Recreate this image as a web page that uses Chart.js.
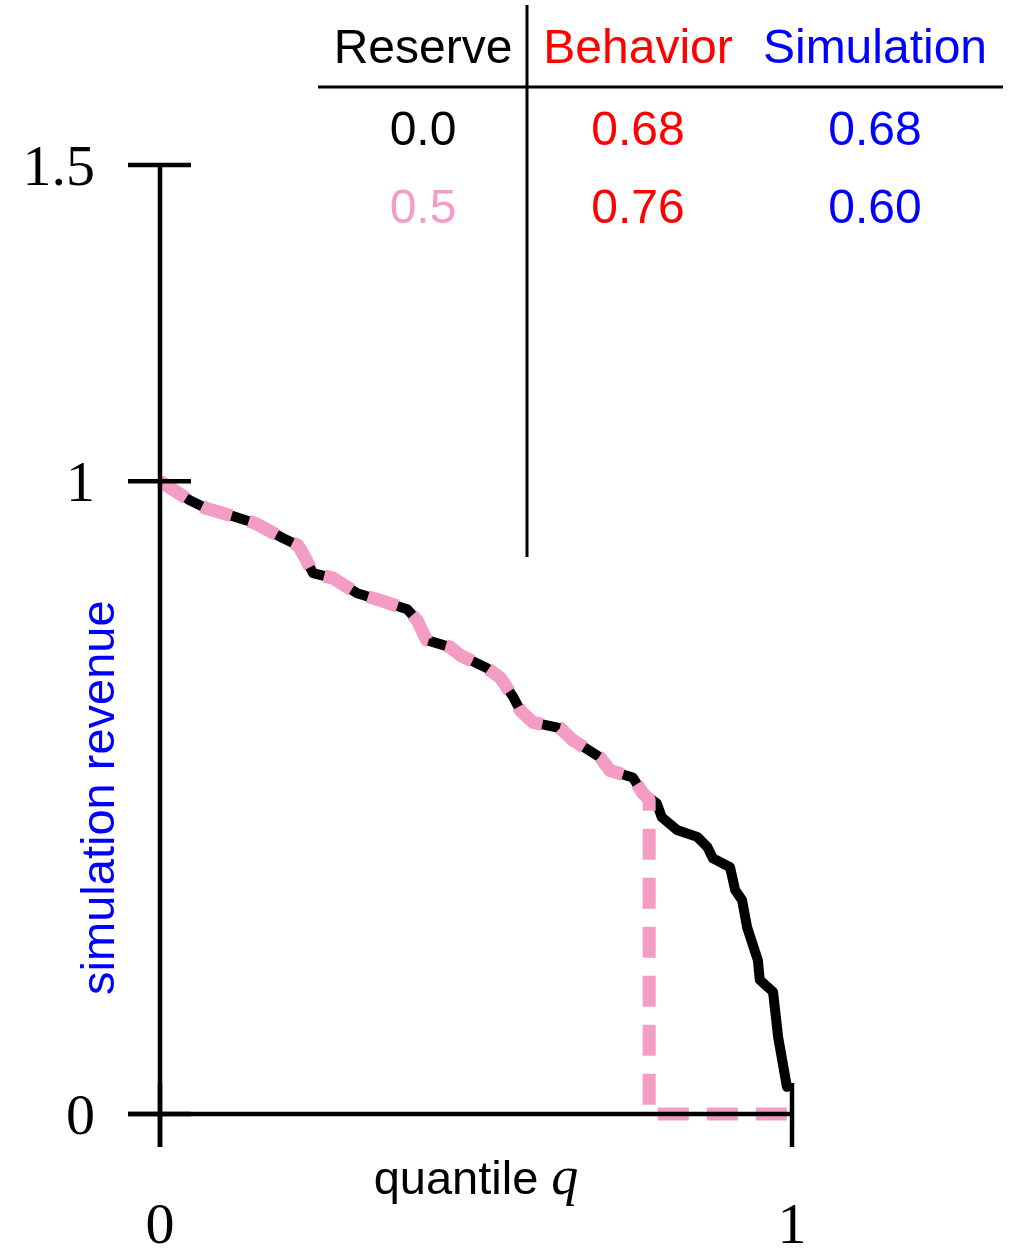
<!DOCTYPE html>
<html>
<head>
<meta charset="utf-8">
<script src="https://cdn.jsdelivr.net/npm/chart.js@4.4.0/dist/chart.umd.min.js"></script>
<style>
  html, body { margin: 0; padding: 0; background: #fff; }
  #wrap { width: 1009px; height: 1248px; }
</style>
</head>
<body>
<div id="wrap"><canvas id="chart" width="1009" height="1248"></canvas></div>
<script>
const quantile = [0, 0.005, 0.047, 0.074, 0.122, 0.150, 0.195, 0.218, 0.226, 0.242,
  0.274, 0.312, 0.348, 0.391, 0.407, 0.422, 0.459, 0.475, 0.517, 0.538,
  0.559, 0.570, 0.590, 0.633, 0.653, 0.696, 0.712, 0.748, 0.764, 0.786,
  0.794, 0.818, 0.850, 0.866, 0.875, 0.902, 0.910, 0.921, 0.929, 0.946,
  0.949, 0.970, 0.978, 0.992, 1.000];
const revenueNoReserve = [1.000, 0.997, 0.970, 0.957, 0.943, 0.934, 0.910, 0.899, 0.886, 0.855,
  0.847, 0.823, 0.812, 0.798, 0.780, 0.749, 0.738, 0.725, 0.705, 0.690,
  0.659, 0.638, 0.619, 0.610, 0.591, 0.564, 0.543, 0.532, 0.507, 0.491,
  0.469, 0.449, 0.438, 0.422, 0.404, 0.390, 0.354, 0.338, 0.295, 0.243,
  0.212, 0.193, 0.122, 0.043, 0.046];

// reserve 0.5 curve: follows the same path, then drops to zero
const quantileReserve = [0, 0.005, 0.047, 0.074, 0.122, 0.150, 0.195, 0.218, 0.226, 0.242,
  0.274, 0.312, 0.348, 0.391, 0.407, 0.422, 0.459, 0.475, 0.517, 0.538,
  0.559, 0.570, 0.590, 0.633, 0.653, 0.696, 0.712, 0.748, 0.764, 0.774,
  0.774, 1.000];
const revenueReserve = [1.000, 0.997, 0.970, 0.957, 0.943, 0.934, 0.910, 0.899, 0.886, 0.855,
  0.847, 0.823, 0.812, 0.798, 0.780, 0.749, 0.738, 0.725, 0.705, 0.690,
  0.659, 0.638, 0.619, 0.610, 0.591, 0.564, 0.543, 0.532, 0.507, 0.497,
  0, 0];

const xTicks = [0, 1];
const yTicks = [0, 1, 1.5];
const yTickLabels = ['0', '1', '1.5'];

// table in the top right
const tableHeaders = ['Reserve', 'Behavior', 'Simulation'];
const reserveVals = ['0.0', '0.5'];
const behaviorVals = ['0.68', '0.76'];
const simulationVals = ['0.68', '0.60'];

const PINK = '#f39dc4';
const SANS = '"Liberation Sans", Arial, sans-serif';
const SERIF = '"Liberation Serif", "Times New Roman", serif';

function toPoints(xs, ys) {
  return xs.map((x, i) => ({ x: x, y: ys[i] }));
}

const axesPlugin = {
  id: 'axesPlugin',
  afterDatasetsDraw(chart) {
    const ctx = chart.ctx;
    const xs = chart.scales.x;
    const ys = chart.scales.y;
    const x0 = xs.getPixelForValue(0);
    const y0 = ys.getPixelForValue(0);
    const tick = 31;

    ctx.save();
    ctx.strokeStyle = '#000';
    ctx.lineWidth = 4.5;
    ctx.lineCap = 'butt';

    // y axis line
    ctx.beginPath();
    ctx.moveTo(x0, ys.getPixelForValue(1.5));
    ctx.lineTo(x0, y0 + tick + 2);
    ctx.stroke();
    // x axis line
    ctx.beginPath();
    ctx.moveTo(x0 - tick - 1, y0);
    ctx.lineTo(xs.getPixelForValue(1), y0);
    ctx.stroke();

    // y ticks
    yTicks.forEach(v => {
      const p = ys.getPixelForValue(v);
      ctx.beginPath();
      ctx.moveTo(x0 - tick - 1, p);
      ctx.lineTo(x0 + tick, p);
      ctx.stroke();
    });
    // x ticks
    xTicks.forEach(v => {
      const p = xs.getPixelForValue(v);
      ctx.beginPath();
      ctx.moveTo(p, y0 - tick);
      ctx.lineTo(p, y0 + tick + 2);
      ctx.stroke();
    });

    // tick labels
    ctx.fillStyle = '#000';
    ctx.font = '58px ' + SERIF;
    ctx.textAlign = 'right';
    ctx.textBaseline = 'alphabetic';
    yTicks.forEach((v, i) => {
      ctx.fillText(yTickLabels[i], 95, ys.getPixelForValue(v) + 20);
    });
    ctx.textAlign = 'center';
    xTicks.forEach(v => {
      ctx.fillText(String(v), xs.getPixelForValue(v), 1243);
    });

    // x axis title: "quantile q"
    const mid = (xs.getPixelForValue(0) + xs.getPixelForValue(1)) / 2;
    ctx.font = '47px ' + SANS;
    const w1 = ctx.measureText('quantile ').width;
    ctx.font = 'italic 54px ' + SERIF;
    const w2 = ctx.measureText('q').width;
    const start = mid - (w1 + w2) / 2;
    ctx.textAlign = 'left';
    ctx.font = '47px ' + SANS;
    ctx.fillText('quantile ', start, 1194);
    ctx.font = 'italic 54px ' + SERIF;
    ctx.fillText('q', start + w1, 1194);

    // y axis title
    ctx.save();
    ctx.translate(114, (ys.getPixelForValue(0) + ys.getPixelForValue(1)) / 2);
    ctx.rotate(-Math.PI / 2);
    ctx.textAlign = 'center';
    ctx.fillStyle = '#0000ff';
    ctx.font = '47px ' + SANS;
    ctx.fillText('simulation revenue', 0, 0);
    ctx.restore();

    // table
    ctx.lineWidth = 3;
    ctx.beginPath();
    ctx.moveTo(527, 5);
    ctx.lineTo(527, 557);
    ctx.stroke();
    ctx.beginPath();
    ctx.moveTo(318, 87);
    ctx.lineTo(1003, 87);
    ctx.stroke();

    const colX = [423, 638, 875];
    const headColors = ['#000', '#ff0000', '#0000ff'];
    ctx.textAlign = 'center';
    ctx.font = '48px ' + SANS;
    tableHeaders.forEach((h, i) => {
      ctx.fillStyle = headColors[i];
      ctx.fillText(h, colX[i], 63);
    });
    const rowY = [145, 223];
    const reserveColors = ['#000', PINK];
    reserveVals.forEach((v, r) => {
      ctx.fillStyle = reserveColors[r];
      ctx.fillText(v, colX[0], rowY[r]);
      ctx.fillStyle = '#ff0000';
      ctx.fillText(behaviorVals[r], colX[1], rowY[r]);
      ctx.fillStyle = '#0000ff';
      ctx.fillText(simulationVals[r], colX[2], rowY[r]);
    });
    ctx.restore();
  }
};

const ctx = document.getElementById('chart').getContext('2d');
const chart = new Chart(ctx, {
  type: 'line',
  data: {
    datasets: [
      {
        label: 'Reserve 0.5',
        data: toPoints(quantileReserve, revenueReserve),
        borderColor: PINK,
        borderWidth: 13,
        borderDash: [31, 18],
        borderCapStyle: 'butt',
        borderJoinStyle: 'round',
        pointRadius: 0,
        tension: 0,
        clip: false
      },
      {
        label: 'Reserve 0.0',
        data: toPoints(quantile, revenueNoReserve),
        borderColor: '#000',
        borderWidth: 10,
        borderJoinStyle: 'round',
        pointRadius: 0,
        tension: 0,
        clip: false
      }
    ]
  },
  options: {
    responsive: false,
    animation: false,
    layout: { padding: { left: 160, right: 217, top: 165, bottom: 134 } },
    scales: {
      x: { type: 'linear', min: 0, max: 1, display: false },
      y: { type: 'linear', min: 0, max: 1.5, display: false }
    },
    plugins: {
      legend: { display: false },
      tooltip: { enabled: false }
    }
  },
  plugins: [axesPlugin]
});
</script>
</body>
</html>
